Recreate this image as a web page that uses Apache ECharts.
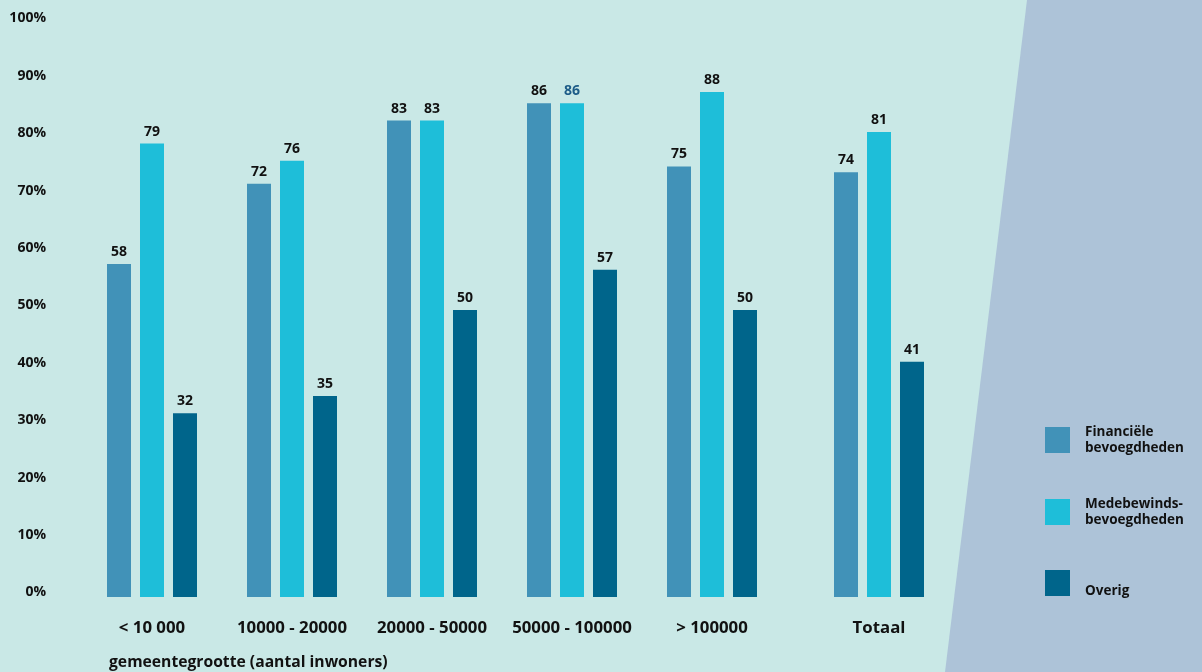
<!DOCTYPE html>
<html>
<head>
<meta charset="utf-8">
<script src="https://cdn.jsdelivr.net/npm/echarts@6/dist/echarts.min.js"></script>
<style>
html,body{margin:0;padding:0;background:#c9e8e6;}
#chart{width:1202px;height:672px;}
</style>
</head>
<body>
<div id="chart"></div>
<script>
const categories = ['< 10 000', '10000 - 20000', '20000 - 50000', '50000 - 100000', '> 100000'];
const totalCategory = ['Totaal'];
const seriesNames = ['Financiële\nbevoegdheden', 'Medebewinds-\nbevoegdheden', 'Overig'];
const financieel = [58, 72, 83, 86, 75];
const medebewinds = [79, 76, 83, 86, 88];
const overig = [32, 35, 50, 57, 50];
const financieelTotaal = [74];
const medebewindsTotaal = [81];
const overigTotaal = [41];
const yTicks = [0, 10, 20, 30, 40, 50, 60, 70, 80, 90, 100];
const xAxisTitle = 'gemeentegrootte (aantal inwoners)';

const colors = ['#4192b8', '#1ebed9', '#00658b'];
const FONT = '"Open Sans", "Noto Sans", sans-serif';

const chart = echarts.init(document.getElementById('chart'), null, {renderer: 'canvas'});

const labelStyle = {
  show: true, position: 'top', distance: 5,
  color: '#111', fontFamily: FONT, fontWeight: 'bold', fontSize: 14
};

function mkData(arr, seriesIdx) {
  return arr.map((v, i) => {
    // the "86" label of Medebewinds in 50000 - 100000 is coloured blue in the original
    if (seriesIdx === 1 && categories[i] === '50000 - 100000') {
      return {value: v, label: {color: '#1d5c88'}};
    }
    return v;
  });
}

function barSeries(name, data, idx, axisIdx) {
  return {
    name: name, type: 'bar',
    xAxisIndex: axisIdx, yAxisIndex: axisIdx,
    data: data, barWidth: 24, barGap: '37.5%',
    itemStyle: {color: colors[idx]},
    label: labelStyle,
    emphasis: {disabled: true}
  };
}

const yMin = yTicks[0], yMax = yTicks[yTicks.length - 1], yInt = yTicks[1] - yTicks[0];

chart.setOption({
  backgroundColor: '#c9e8e6',
  animation: false,
  textStyle: {fontFamily: FONT},
  graphic: [{
    type: 'polygon', z: -10, silent: true,
    shape: {points: [[1027, 0], [1202, 0], [1202, 672], [945, 672]]},
    style: {fill: '#adc3d8'}
  }],
  title: {
    text: xAxisTitle, left: 104, top: 650,
    textStyle: {fontFamily: FONT, fontWeight: 'bold', fontSize: 15.7, color: '#111'}
  },
  legend: {
    orient: 'vertical', left: 1045, top: 424, padding: 0,
    itemWidth: 25, itemHeight: 26, itemGap: 40,
    icon: 'rect',
    data: seriesNames,
    formatter: function (name) {
      return name === 'Overig' ? '{o|' + name + '}' : name;
    },
    textStyle: {
      fontFamily: FONT, fontWeight: 'bold', fontSize: 13.5, color: '#111', lineHeight: 16, padding: [0, 0, 0, 10],
      rich: {o: {fontFamily: FONT, fontWeight: 'bold', fontSize: 13.5, color: '#111', lineHeight: 16, padding: [16, 0, 0, 0]}}
    },
    selectedMode: false
  },
  grid: [
    {left: 82, width: 700, top: 23, bottom: 75, containLabel: false},
    {left: 809, width: 140, top: 23, bottom: 75, containLabel: false}
  ],
  xAxis: [
    {type: 'category', gridIndex: 0, data: categories,
     axisLine: {show: false}, axisTick: {show: false},
     axisLabel: {margin: 23, fontFamily: FONT, fontWeight: 'bold', fontSize: 16.8, color: '#111', interval: 0}},
    {type: 'category', gridIndex: 1, data: totalCategory,
     axisLine: {show: false}, axisTick: {show: false},
     axisLabel: {margin: 23, fontFamily: FONT, fontWeight: 'bold', fontSize: 16.8, color: '#111'}}
  ],
  yAxis: [
    {type: 'value', gridIndex: 0, min: yMin, max: yMax, interval: yInt,
     splitLine: {show: false}, axisLine: {show: false}, axisTick: {show: false},
     axisLabel: {margin: 36, formatter: '{value}%', fontFamily: FONT, fontWeight: 'bold', fontSize: 14, color: '#111', verticalAlign: 'bottom', lineHeight: 9}},
    {type: 'value', gridIndex: 1, min: yMin, max: yMax, interval: yInt, show: false,
     splitLine: {show: false}}
  ],
  series: [
    barSeries(seriesNames[0], mkData(financieel, 0), 0, 0),
    barSeries(seriesNames[1], mkData(medebewinds, 1), 1, 0),
    barSeries(seriesNames[2], mkData(overig, 2), 2, 0),
    barSeries(seriesNames[0], financieelTotaal, 0, 1),
    barSeries(seriesNames[1], medebewindsTotaal, 1, 1),
    barSeries(seriesNames[2], overigTotaal, 2, 1)
  ]
});
</script>
</body>
</html>
